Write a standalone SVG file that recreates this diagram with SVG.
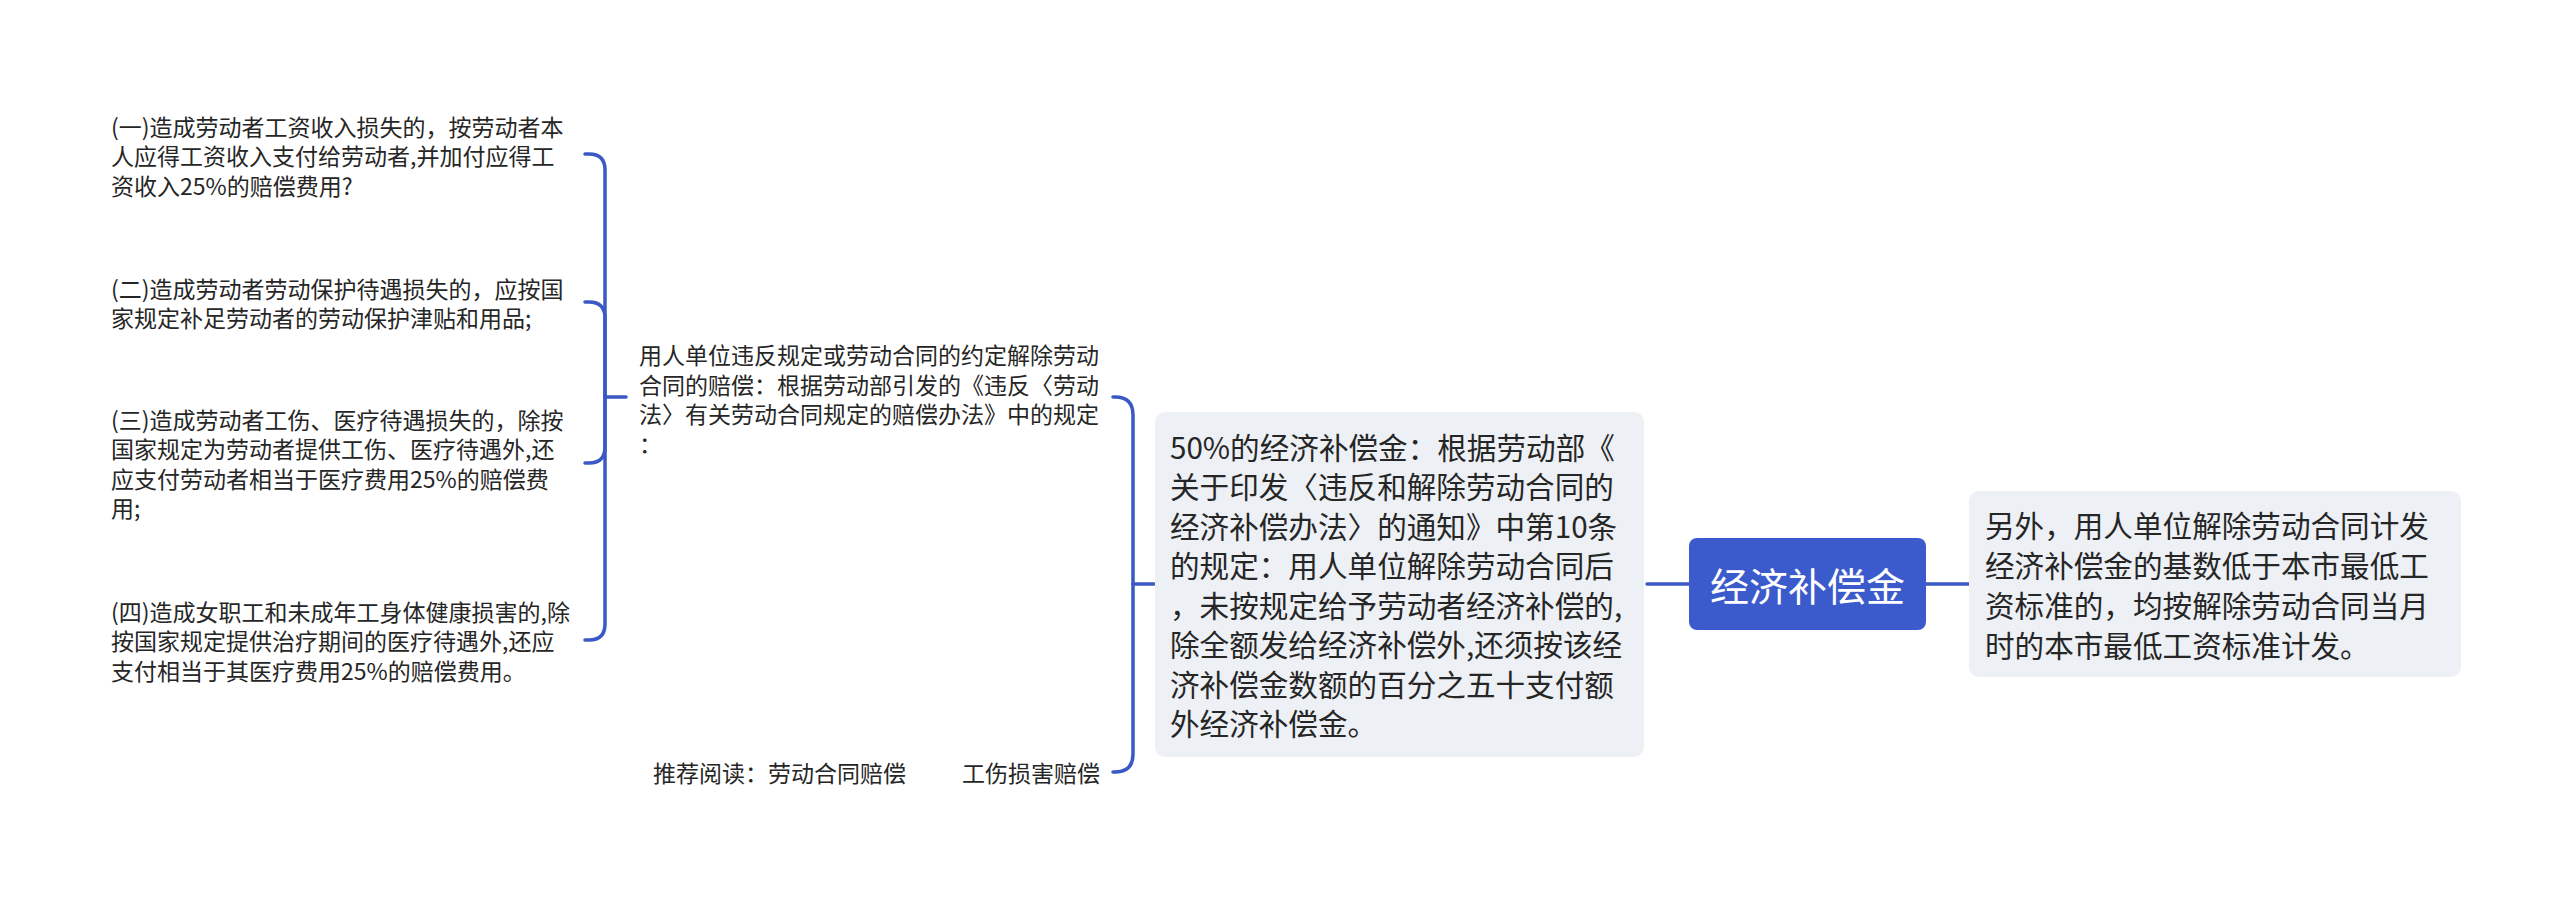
<svg xmlns="http://www.w3.org/2000/svg" width="2560" height="897" viewBox="0 0 2560 897">
<style>
  .t { font-family: "Noto Sans CJK SC", "Noto Sans", sans-serif; fill: #262626; dominant-baseline: central; }
  .s23 { font-size: 23px; }
  .s30 { font-size: 29.6px; }
  .root { font-family: "Noto Sans CJK SC", "Noto Sans", sans-serif; fill: #ffffff; font-size: 39px; dominant-baseline: central; text-anchor: middle; }
  .box { fill: #edf0f4; }
  .conn { fill: none; stroke: #3a59c4; stroke-width: 3.5; stroke-linecap: round; }
</style>
<rect width="2560" height="897" fill="#ffffff"/>
<g id="connectors">
  <path class="conn" d="M1689 584 H1647"/>
  <path class="conn" d="M1926 584 H1969"/>
  <path class="conn" d="M1133 584 H1154"/>
  <path class="conn" d="M1133 584 V415 Q1133 397 1115 397 H1113"/>
  <path class="conn" d="M1133 584 V754 Q1133 772 1115 772 H1113"/>
  <path class="conn" d="M605 397 H626"/>
  <path class="conn" d="M605 397 V170 Q605 154 589 154 H585"/>
  <path class="conn" d="M605 397 V318 Q605 302 589 302 H585"/>
  <path class="conn" d="M605 397 V447 Q605 463 589 463 H585"/>
  <path class="conn" d="M605 397 V624 Q605 640 589 640 H585"/>
</g>
<g id="root">
  <rect x="1689" y="538" width="237" height="92" rx="8" fill="#3b5bcc"/>
  <text class="root" x="1807.5" y="584">经济补偿金</text>
</g>
<g id="node-right">
  <rect class="box" x="1969" y="491" width="492" height="186" rx="10"/>
  <text class="t s30" x="1985" y="524">另外，用人单位解除劳动合同计发</text>
  <text class="t s30" x="1985" y="564">经济补偿金的基数低于本市最低工</text>
  <text class="t s30" x="1985" y="604">资标准的，均按解除劳动合同当月</text>
  <text class="t s30" x="1985" y="644">时的本市最低工资标准计发。</text>
</g>
<g id="node-50">
  <rect class="box" x="1155" y="412" width="489" height="345" rx="10"/>
  <text class="t s30" x="1170" y="446">50%的经济补偿金：根据劳动部《</text>
  <text class="t s30" x="1170" y="485.5">关于印发〈违反和解除劳动合同的</text>
  <text class="t s30" x="1170" y="525">经济补偿办法〉的通知》中第10条</text>
  <text class="t s30" x="1170" y="564.5">的规定：用人单位解除劳动合同后</text>
  <text class="t s30" x="1170" y="604">，未按规定给予劳动者经济补偿的,</text>
  <text class="t s30" x="1170" y="643.5">除全额发给经济补偿外,还须按该经</text>
  <text class="t s30" x="1170" y="683">济补偿金数额的百分之五十支付额</text>
  <text class="t s30" x="1170" y="722.5">外经济补偿金。</text>
</g>
<g id="node-yongren">
  <text class="t s23" x="639" y="354">用人单位违反规定或劳动合同的约定解除劳动</text>
  <text class="t s23" x="639" y="383.5">合同的赔偿：根据劳动部引发的《违反〈劳动</text>
  <text class="t s23" x="639" y="413">法〉有关劳动合同规定的赔偿办法》中的规定</text>
  <text class="t s23" x="639" y="442.5">：</text>
</g>
<g id="node-recommend">
  <text class="t s23" y="772"><tspan x="653">推荐阅读：劳动合同赔偿</tspan><tspan x="962">工伤损害赔偿</tspan></text>
</g>
<g id="leaf-1">
  <text class="t s23" x="111" y="125.5">(一)造成劳动者工资收入损失的，按劳动者本</text>
  <text class="t s23" x="111" y="155">人应得工资收入支付给劳动者,并加付应得工</text>
  <text class="t s23" x="111" y="184.5">资收入25%的赔偿费用?</text>
</g>
<g id="leaf-2">
  <text class="t s23" x="111" y="287.5">(二)造成劳动者劳动保护待遇损失的，应按国</text>
  <text class="t s23" x="111" y="317">家规定补足劳动者的劳动保护津贴和用品;</text>
</g>
<g id="leaf-3">
  <text class="t s23" x="111" y="418.75">(三)造成劳动者工伤、医疗待遇损失的，除按</text>
  <text class="t s23" x="111" y="448.25">国家规定为劳动者提供工伤、医疗待遇外,还</text>
  <text class="t s23" x="111" y="477.75">应支付劳动者相当于医疗费用25%的赔偿费</text>
  <text class="t s23" x="111" y="507.25">用;</text>
</g>
<g id="leaf-4">
  <text class="t s23" x="111" y="610.5">(四)造成女职工和未成年工身体健康损害的,除</text>
  <text class="t s23" x="111" y="640">按国家规定提供治疗期间的医疗待遇外,还应</text>
  <text class="t s23" x="111" y="669.5">支付相当于其医疗费用25%的赔偿费用。</text>
</g>
</svg>
